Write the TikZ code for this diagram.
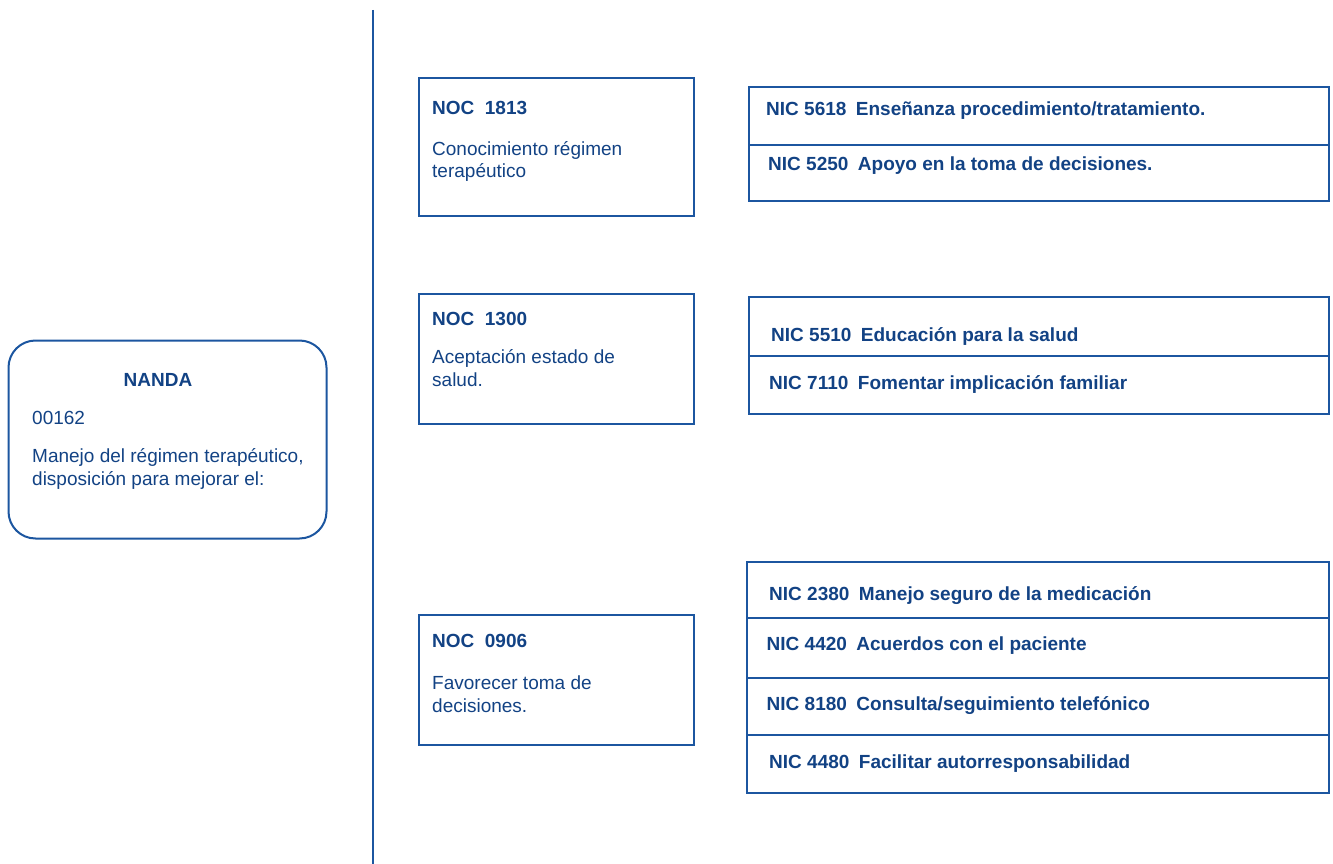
\documentclass[tikz,border=0pt]{standalone}
\usepackage{fontspec}
\setmainfont{Liberation Sans}
\definecolor{tblue}{RGB}{18,66,132}
\definecolor{lblue}{RGB}{28,86,160}
\begin{document}
\begin{tikzpicture}[x=1pt,y=-1pt,
  box/.style={draw=lblue,line width=2pt,rectangle,inner sep=0pt,anchor=north west},
  txt/.style={text=tblue,inner sep=0pt,anchor=base west,font=\fontsize{19}{23}\selectfont},
  btxt/.style={txt,font=\fontsize{19}{23}\selectfont\bfseries}]
\useasboundingbox (0,0) rectangle (1333,864);
% separator line
\coordinate (sepT) at (373,10);
\coordinate (sepB) at (373,864);
\draw[lblue,line width=2.5pt] (sepT) -- (sepB);
% NANDA
\node[box,rounded corners=27pt,minimum width=318pt,minimum height=198pt] (nanda) at (7.5,339.5) {};
\node[btxt,anchor=base] (nandaT) at (158,386) {NANDA};
\node[txt] (nandaC) at (32,424) {00162};
\node[txt] (nandaD1) at (32,462) {Manejo del régimen terapéutico,};
\node[txt] (nandaD2) at (32,485) {disposición para mejorar el:};
% NOC boxes
\node[box,minimum width=275pt,minimum height=138pt] (noc1) at (418,77) {};
\node[btxt] (noc1T) at (432,115) {NOC\hspace{0.55em}1813};
\node[txt] (noc1a) at (432,155) {Conocimiento régimen};
\node[txt] (noc1b) at (432,178) {terapéutico};
\node[box,minimum width=275pt,minimum height=130pt] (noc2) at (418,293) {};
\node[btxt] (noc2T) at (432,325) {NOC\hspace{0.55em}1300};
\node[txt] (noc2a) at (432,363) {Aceptación estado de};
\node[txt] (noc2b) at (432,386) {salud.};
\node[box,minimum width=275pt,minimum height=130pt] (noc3) at (418,614) {};
\node[btxt] (noc3T) at (432,647) {NOC\hspace{0.55em}0906};
\node[txt] (noc3a) at (432,689) {Favorecer toma de};
\node[txt] (noc3b) at (432,712) {decisiones.};
% NIC group 1
\node[box,minimum width=580pt,minimum height=58pt] (nic1r1) at (748,86) {};
\node[box,minimum width=580pt,minimum height=56pt] (nic1r2) at (748,144) {};
\node[btxt] (nic5618) at (766,116) {NIC 5618\hspace{0.5em}Enseñanza procedimiento/tratamiento.};
\node[btxt] (nic5250) at (768,170) {NIC 5250\hspace{0.5em}Apoyo en la toma de decisiones.};
% NIC group 2
\node[box,minimum width=580pt,minimum height=59pt] (nic2r1) at (748,296) {};
\node[box,minimum width=580pt,minimum height=58pt] (nic2r2) at (748,355) {};
\node[btxt] (nic5510) at (771,341) {NIC 5510\hspace{0.5em}Educación para la salud};
\node[btxt] (nic7110) at (769,389) {NIC 7110\hspace{0.5em}Fomentar implicación familiar};
% NIC group 3
\node[box,minimum width=582pt,minimum height=56pt] (nic3r1) at (746,561) {};
\node[box,minimum width=582pt,minimum height=60pt] (nic3r2) at (746,617) {};
\node[box,minimum width=582pt,minimum height=57pt] (nic3r3) at (746,677) {};
\node[box,minimum width=582pt,minimum height=58pt] (nic3r4) at (746,734) {};
\node[btxt] (nic2380) at (769,600) {NIC 2380\hspace{0.5em}Manejo seguro de la medicación};
\node[btxt] (nic4420) at (766.5,650) {NIC 4420\hspace{0.5em}Acuerdos con el paciente};
\node[btxt] (nic8180) at (766.5,710) {NIC 8180\hspace{0.5em}Consulta/seguimiento telefónico};
\node[btxt] (nic4480) at (769,768) {NIC 4480\hspace{0.5em}Facilitar autorresponsabilidad};
\end{tikzpicture}
\end{document}
